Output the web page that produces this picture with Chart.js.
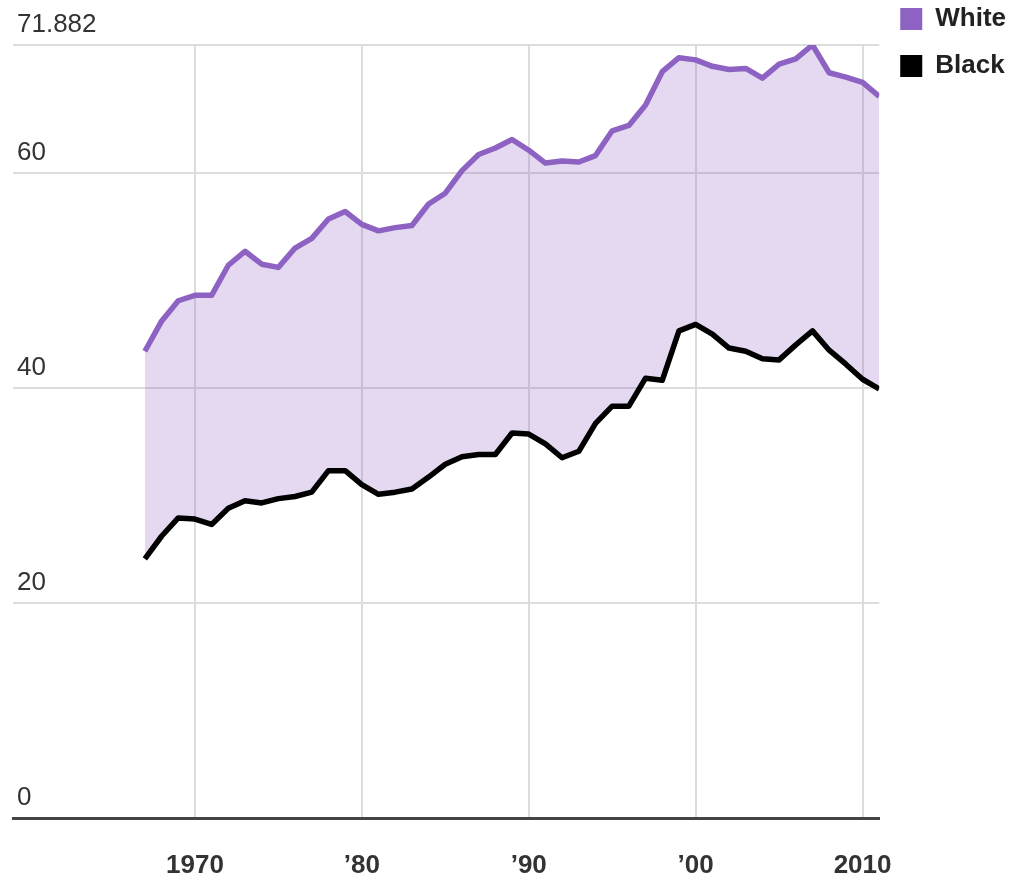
<!DOCTYPE html>
<html>
<head>
<meta charset="utf-8">
<title>White vs Black</title>
<script src="https://cdn.jsdelivr.net/npm/chart.js@4.4.1/dist/chart.umd.min.js"></script>
<style>
  html, body { margin: 0; padding: 0; background: #fff; }
  #wrap { width: 1011px; height: 877px; }
</style>
</head>
<body>
<div id="wrap"><canvas id="myChart"></canvas></div>
<script>
// Data
const years = [1967, 1968, 1969, 1970, 1971, 1972, 1973, 1974, 1975, 1976,
  1977, 1978, 1979, 1980, 1981, 1982, 1983, 1984, 1985, 1986,
  1987, 1988, 1989, 1990, 1991, 1992, 1993, 1994, 1995, 1996,
  1997, 1998, 1999, 2000, 2001, 2002, 2003, 2004, 2005, 2006,
  2007, 2008, 2009, 2010, 2011];

const whiteValues = [43.4, 46.2, 48.1, 48.6, 48.6, 51.4, 52.7, 51.5, 51.2, 53.0,
  53.9, 55.7, 56.4, 55.2, 54.6, 54.9, 55.1, 57.1, 58.1, 60.2,
  61.7, 62.3, 63.1, 62.1, 60.9, 61.1, 61.0, 61.6, 63.9, 64.4,
  66.3, 69.4, 70.7, 70.5, 69.9, 69.6, 69.7, 68.8, 70.1, 70.6,
  71.882, 69.3, 68.9, 68.4, 67.1];

const blackValues = [24.1, 26.2, 27.9, 27.8, 27.3, 28.8, 29.5, 29.3, 29.7, 29.9,
  30.3, 32.3, 32.3, 31.0, 30.1, 30.3, 30.6, 31.7, 32.9, 33.6,
  33.8, 33.8, 35.8, 35.7, 34.8, 33.5, 34.1, 36.7, 38.3, 38.3,
  40.9, 40.7, 45.3, 45.9, 45.0, 43.7, 43.4, 42.7, 42.6, 44.0,
  45.3, 43.5, 42.2, 40.8, 39.9];

const seriesNames = ['White', 'Black'];
const seriesColors = ['#8d62c2', '#000000'];

const yTicks = [0, 20, 40, 60, 71.882];
const xTicks = [1970, 1980, 1990, 2000, 2010];
const xTickLabels = ['1970', '\u201980', '\u201990', '\u201900', '2010'];

function toPoints(values) {
  return values.map(function (v, i) { return { x: years[i], y: v }; });
}

const ctx = document.getElementById('myChart').getContext('2d');
const myChart = new Chart(ctx, {
  type: 'line',
  data: {
    datasets: [
      {
        label: seriesNames[0],
        data: toPoints(whiteValues),
        borderColor: seriesColors[0],
        backgroundColor: 'rgba(141, 98, 194, 0.24)',
        borderWidth: 5.5,
        pointRadius: 0,
        tension: 0,
        borderJoinStyle: 'round',
        fill: '+1'
      },
      {
        label: seriesNames[1],
        data: toPoints(blackValues),
        borderColor: seriesColors[1],
        backgroundColor: seriesColors[1],
        borderWidth: 5.5,
        pointRadius: 0,
        tension: 0,
        borderJoinStyle: 'round',
        fill: false
      }
    ]
  },
  options: {
    responsive: true,
    maintainAspectRatio: false,
    animation: false,
    devicePixelRatio: 1,
    layout: { padding: { top: -15, right: -5, bottom: -37, left: 5 } },
    plugins: {
      filler: { drawTime: 'beforeDatasetsDraw' },
      title: {
        display: true,
        text: '',
        font: { size: 10, lineHeight: 1 },
        padding: { top: 50, bottom: 0 }
      },
      legend: {
        position: 'right',
        align: 'start',
        labels: {
          boxWidth: 22,
          boxHeight: 22,
          padding: 21,
          color: '#222',
          font: { family: '"Liberation Sans", Arial, sans-serif', size: 26, weight: 'bold' },
          generateLabels: function (chart) {
            const items = Chart.defaults.plugins.legend.labels.generateLabels(chart);
            items.forEach(function (it) {
              it.fillStyle = seriesColors[it.datasetIndex];
              it.strokeStyle = seriesColors[it.datasetIndex];
              it.lineWidth = 0;
            });
            return items;
          }
        }
      },
      tooltip: { enabled: false }
    },
    scales: {
      x: {
        type: 'linear',
        min: 1959.1,
        max: 2011,
        afterBuildTicks: function (scale) {
          scale.ticks = xTicks.map(function (v) { return { value: v }; });
        },
        grid: { color: '#dcdcdc', lineWidth: 2, drawTicks: false },
        border: { display: true, color: '#444', width: 3 },
        ticks: {
          autoSkip: false,
          maxRotation: 0,
          padding: 35,
          color: '#333',
          font: { family: '"Liberation Sans", Arial, sans-serif', size: 26, weight: 'bold', lineHeight: 1 },
          callback: function (value) {
            const i = xTicks.indexOf(value);
            return i >= 0 ? xTickLabels[i] : '';
          }
        }
      },
      y: {
        min: 0,
        max: 71.882,
        afterBuildTicks: function (scale) {
          scale.ticks = yTicks.map(function (v) { return { value: v }; });
        },
        grid: { color: '#dcdcdc', lineWidth: 2, drawTicks: false },
        border: { display: false },
        ticks: {
          autoSkip: false,
          mirror: true,
          padding: 4,
          labelOffset: -20,
          color: '#333',
          font: { family: '"Liberation Sans", Arial, sans-serif', size: 26 },
          callback: function (value) { return String(value); }
        }
      }
    }
  }
});
</script>
</body>
</html>
